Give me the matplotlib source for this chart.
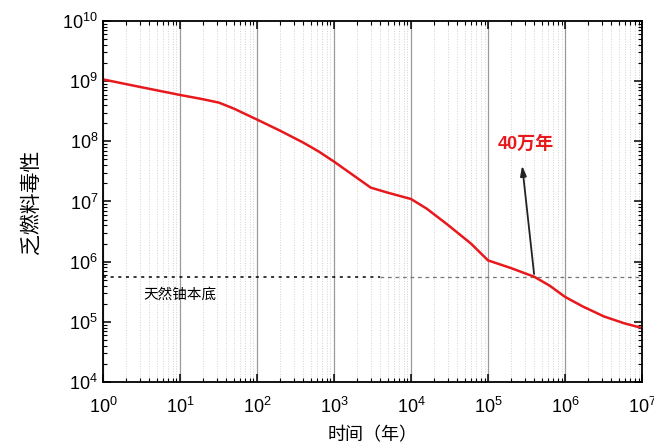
import matplotlib
matplotlib.use('Agg')
import matplotlib.pyplot as plt
from matplotlib.ticker import LogLocator, NullFormatter

plt.rcParams['font.family'] = ['Liberation Sans', 'Noto Sans CJK SC', 'DejaVu Sans']
plt.rcParams['mathtext.fontset'] = 'custom'
plt.rcParams['mathtext.rm'] = 'Liberation Sans'

# spent fuel toxicity vs time (years)
time_years = [1, 3.2, 10, 20, 32, 50, 100, 200, 400, 630, 1000, 1800, 3000,
              5000, 1e4, 1.6e4, 3e4, 6e4, 1e5, 2e5, 4e5, 6.3e5, 1e6, 1.7e6,
              3.2e6, 5.8e6, 1e7]
toxicity = [1.07e9, 7.9e8, 5.9e8, 5.0e8, 4.4e8, 3.5e8, 2.3e8, 1.5e8, 9.5e7,
            6.8e7, 4.6e7, 2.7e7, 1.7e7, 1.4e7, 1.1e7, 7.6e6, 4.1e6, 2.0e6,
            1.05e6, 7.8e5, 5.6e5, 4.0e5, 2.6e5, 1.8e5, 1.23e5, 9.5e4, 7.9e4]

uranium_background = 5.6e5
background_split = 4e3
crossing_time = 4e5
label_time = 2.75e5
label_value = 4.4e7

fig = plt.figure(figsize=(6.54, 4.43), dpi=100)
ax = fig.add_axes([0.1575, 0.1377, 0.8242, 0.8149])

ax.set_xscale('log')
ax.set_yscale('log')
ax.set_xlim(1, 1e7)
ax.set_ylim(1e4, 1e10)

# vertical grid only: solid majors, dotted minors
ax.xaxis.set_major_locator(LogLocator(base=10, numticks=20))
ax.xaxis.set_minor_locator(LogLocator(base=10, subs=range(2, 10), numticks=100))
ax.yaxis.set_major_locator(LogLocator(base=10, numticks=20))
ax.yaxis.set_minor_locator(LogLocator(base=10, subs=range(2, 10), numticks=100))
ax.xaxis.set_minor_formatter(NullFormatter())
ax.yaxis.set_minor_formatter(NullFormatter())
ax.grid(True, axis='x', which='major', color='#9a9a9a', linewidth=0.9)
ax.grid(True, axis='x', which='minor', color='#d2d2d2', linestyle=':', linewidth=0.7)
ax.set_axisbelow(True)

# natural uranium background level
ax.plot([1, background_split], [uranium_background] * 2, color='black',
        linestyle=(0, (2, 3)), linewidth=1.1)
ax.plot([background_split, 1e7], [uranium_background] * 2, color='#777777',
        linestyle=(0, (3, 3)), linewidth=0.9)

ax.plot(time_years, toxicity, color='#e8191c', linewidth=1.8)

ax.annotate('', xy=(label_time, label_value), xytext=(crossing_time, uranium_background),
            arrowprops=dict(arrowstyle='-|>,head_length=0.6,head_width=0.18',
                            color='#222222', linewidth=1.3))
ax.text(3.1e5, 9.0e7, '40万年', color='#e8191c', fontsize=13, fontweight='bold',
        ha='center', va='center')
ax.text(10, 2.8e5, '天然铀本底', fontsize=10.5, ha='center', va='center')

ax.tick_params(which='both', direction='in', top=True, right=True, labelsize=13)
ax.tick_params(which='major', length=6, width=1.1)
ax.tick_params(which='minor', length=3, width=0.8)
ax.tick_params(axis='x', pad=11)
for spine in ax.spines.values():
    spine.set_linewidth(1.3)

ax.set_xlabel('时间（年）', fontsize=13, labelpad=7)
ax.set_ylabel('乏燃料毒性', fontsize=15, labelpad=16)

fig.savefig('out.png', dpi=100)
